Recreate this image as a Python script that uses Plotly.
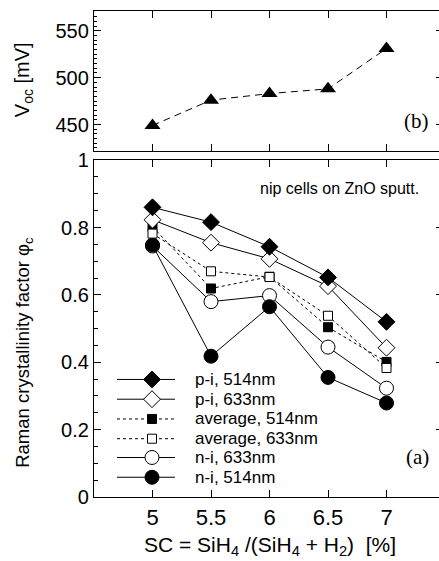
import plotly.graph_objects as go

# ---------------- data ----------------
sc = [5, 5.5, 6, 6.5, 7]
voc = [449, 476, 483, 488, 531]

pi_514 = [0.860, 0.816, 0.743, 0.652, 0.520]
pi_633 = [0.823, 0.755, 0.707, 0.626, 0.443]
avg_514 = [0.802, 0.619, 0.654, 0.504, 0.401]
avg_633 = [0.782, 0.670, 0.653, 0.538, 0.383]
ni_633 = [0.745, 0.580, 0.598, 0.445, 0.323]
ni_514 = [0.748, 0.418, 0.565, 0.355, 0.279]

legend_labels = ["p-i, 514nm", "p-i, 633nm", "average, 514nm",
                 "average, 633nm", "n-i, 633nm", "n-i, 514nm"]

# ---------------- geometry ----------------
W, H = 439, 561
ML, MR, MT, MB = 94, 0, 5, 64
PW, PH = W - ML - MR, H - MT - MB


def px(x):
    return (x - ML) / PW


def py(y):
    return (H - MB - y) / PH


TOP_DOM = [py(147), 1.0]
BOT_DOM = [0.0, py(156)]
XR = [4.5, 4.5 + PW / 117.0]

FONT = "Liberation Sans, Arial, sans-serif"
SERIF = "Liberation Serif, Times New Roman, serif"
BLACK = "#000000"

fig = go.Figure()

# ---- bottom panel series ----
series = [
    (ni_633, "circle", 14, "solid", "white"),
    (ni_514, "circle", 14, "solid", BLACK),
    (avg_514, "square", 9, "3px,3px", BLACK),
    (avg_633, "square", 9, "3px,3px", "white"),
    (pi_633, "diamond", 13, "solid", "white"),
    (pi_514, "diamond", 13, "solid", BLACK),
]
for vals, sym, size, dash, fill in series:
    fig.add_trace(go.Scatter(
        x=sc, y=vals, mode="lines+markers", xaxis="x", yaxis="y",
        line=dict(color=BLACK, width=1, dash=dash),
        marker=dict(symbol=sym, size=size, color=fill,
                    line=dict(color=BLACK, width=1)),
        showlegend=False, cliponaxis=False))

# ---- top panel ----
fig.add_trace(go.Scatter(
    x=sc, y=voc, mode="lines+markers", xaxis="x2", yaxis="y2",
    line=dict(color=BLACK, width=1, dash="7px,5px"),
    marker=dict(symbol="triangle-up", size=14, color=BLACK),
    showlegend=False, cliponaxis=False))

# ---- custom legend (pixel overlay axes x5/y5 over the bottom panel) ----
leg_rows = [378, 398, 418, 438, 457, 477]
leg_styles = [
    ("diamond", 13, "solid", BLACK),
    ("diamond", 13, "solid", "white"),
    ("square", 9, "3px,3px", BLACK),
    ("square", 9, "3px,3px", "white"),
    ("circle", 14, "solid", "white"),
    ("circle", 14, "solid", BLACK),
]
for yy, (sym, size, dash, fill), lab in zip(leg_rows, leg_styles, legend_labels):
    fig.add_trace(go.Scatter(
        x=[117, 175], y=[yy, yy], mode="lines", xaxis="x5", yaxis="y5",
        line=dict(color=BLACK, width=1, dash=dash), showlegend=False,
        hoverinfo="skip"))
    fig.add_trace(go.Scatter(
        x=[152], y=[yy], mode="markers", xaxis="x5", yaxis="y5",
        marker=dict(symbol=sym, size=size, color=fill,
                    line=dict(color=BLACK, width=1)),
        showlegend=False, hoverinfo="skip"))
    fig.add_annotation(x=px(193), y=py(yy), xref="paper", yref="paper",
                       text=lab, showarrow=False, xanchor="left",
                       yanchor="middle", font=dict(size=17, family=FONT,
                                                   color=BLACK))

# dummy traces so right-side tick axes render
fig.add_trace(go.Scatter(x=[None], y=[None], xaxis="x", yaxis="y3",
                         showlegend=False))
fig.add_trace(go.Scatter(x=[None], y=[None], xaxis="x2", yaxis="y4",
                         showlegend=False))

axis_common = dict(showgrid=False, zeroline=False, color=BLACK,
                   linecolor=BLACK, linewidth=1.3, ticks="inside",
                   tickcolor=BLACK, tickwidth=1.2)
XT = [5, 5.5, 6, 6.5, 7]

fig.update_layout(
    width=W, height=H, autosize=False,
    margin=dict(l=ML, r=MR, t=MT, b=MB),
    paper_bgcolor="white", plot_bgcolor="white",
    font=dict(family=FONT, color=BLACK),
    showlegend=False,
    xaxis=dict(domain=[0, 1], anchor="y", range=XR, tickvals=XT,
               ticktext=["5", "5.5", "6", "6.5", "7"],
               showline=True, mirror="ticks", ticklen=7,
               tickfont=dict(size=22, family=FONT), **axis_common),
    yaxis=dict(domain=BOT_DOM, anchor="x", range=[0, 1], dtick=0.2,
               showline=True, mirror=False, ticklen=7,
               tickfont=dict(size=20, family=FONT),
               minor=dict(dtick=0.05, ticklen=4, ticks="inside",
                          tickcolor=BLACK, tickwidth=1),
               **axis_common),
    xaxis2=dict(domain=[0, 1], anchor="y2", range=XR, tickvals=XT,
                showline=True, mirror="ticks", ticklen=7,
                showticklabels=False, **axis_common),
    yaxis2=dict(domain=TOP_DOM, anchor="x2", range=[421.5, 571], dtick=50,
                tick0=450, showline=True, mirror=False, ticklen=7,
                tickfont=dict(size=20, family=FONT),
                minor=dict(dtick=5, ticklen=3, ticks="inside",
                           tickcolor=BLACK, tickwidth=1),
                **axis_common),
    yaxis3=dict(overlaying="y", side="right", anchor="x", range=[0, 1],
                dtick=0.2, showline=False, showticklabels=False,
                ticks="inside", ticklen=3, tickcolor=BLACK, tickwidth=1.2,
                showgrid=False, zeroline=False),
    yaxis4=dict(overlaying="y2", side="right", anchor="x2",
                range=[421.5, 571], dtick=50, tick0=450, showline=False,
                showticklabels=False, ticks="inside", ticklen=3,
                tickcolor=BLACK, tickwidth=1.2, showgrid=False,
                zeroline=False),
    xaxis5=dict(anchor="y5", range=[ML, W - MR], visible=False,
                overlaying="x"),
    yaxis5=dict(anchor="x5", range=[H - MB, 156], visible=False,
                overlaying="y"),
)

# axis titles & labels
fig.add_annotation(x=px(23), y=py(75), xref="paper", yref="paper",
                   text="V<sub>oc</sub> [mV]", textangle=-90, showarrow=False,
                   xanchor="center", yanchor="middle",
                   font=dict(size=20, family=FONT, color=BLACK))
fig.add_annotation(x=px(24), y=py(351), xref="paper", yref="paper",
                   text="Raman crystallinity factor φ<sub>c</sub>",
                   textangle=-90, showarrow=False, xanchor="center",
                   yanchor="middle",
                   font=dict(size=18.5, family=FONT, color=BLACK))
fig.add_annotation(x=px(270), y=py(547), xref="paper", yref="paper",
                   text="SC = SiH<sub>4</sub> /(SiH<sub>4</sub> + H<sub>2</sub>) &nbsp;[%]",
                   showarrow=False, xanchor="center", yanchor="middle",
                   font=dict(size=21, family=FONT, color=BLACK))
fig.add_annotation(x=px(421), y=py(185), xref="paper", yref="paper",
                   text="nip cells on ZnO sputt.", showarrow=False,
                   xanchor="right", yanchor="middle",
                   font=dict(size=16, family=FONT, color=BLACK))
fig.add_annotation(x=px(431), y=py(116), xref="paper", yref="paper",
                   text="(b)", showarrow=False, xanchor="right",
                   yanchor="middle",
                   font=dict(size=21, family=SERIF, color=BLACK))
fig.add_annotation(x=px(431), y=py(457), xref="paper", yref="paper",
                   text="(a)", showarrow=False, xanchor="right",
                   yanchor="middle",
                   font=dict(size=21, family=SERIF, color=BLACK))

fig.write_html("out.html", config={"displayModeBar": False},
               post_script="document.body.style.margin='0px';"
                           "document.body.style.padding='0px';")
